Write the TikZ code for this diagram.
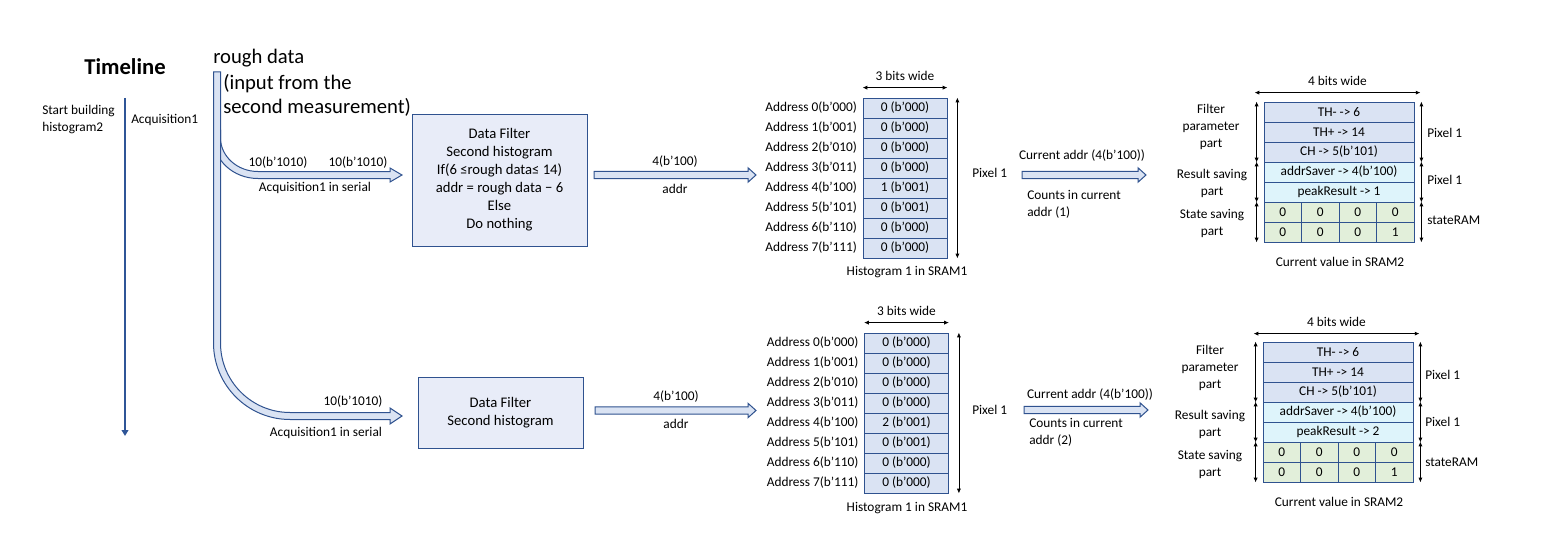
\documentclass[tikz,border=0pt]{standalone}
\usepackage{fontspec}
\setmainfont{Carlito}
\usepackage{tikz}
\usetikzlibrary{arrows.meta}
\usetikzlibrary{calc}
\usetikzlibrary{positioning}

\definecolor{outblue}{RGB}{47,82,143}
\definecolor{lineblue}{RGB}{47,85,151}
\definecolor{arrowfill}{RGB}{218,227,243}
\definecolor{filterfill}{RGB}{232,236,248}
\definecolor{cellblue}{RGB}{218,227,243}
\definecolor{cellcyan}{RGB}{222,244,251}
\definecolor{cellgreen}{RGB}{226,239,218}

\tikzset{
  lbl/.style={font=\fontsize{10}{12.75}\selectfont, inner sep=0pt, align=center},
  filterbox/.style={draw=outblue, fill=filterfill, line width=0.75pt, align=center,
    font=\fontsize{11}{13.5}\selectfont, inner sep=0pt},
  histcell/.style={draw=outblue, fill=cellblue, line width=0.6pt, minimum width=63pt,
    minimum height=15pt, inner sep=0pt, font=\fontsize{10}{12}\selectfont},
  sramcell/.style={draw=outblue, line width=0.6pt, minimum width=112.5pt,
    minimum height=15pt, inner sep=0pt, font=\fontsize{10}{12}\selectfont},
  statecell/.style={draw=outblue, fill=cellgreen, line width=0.6pt, minimum width=28.125pt,
    minimum height=15pt, inner sep=0pt, font=\fontsize{10}{12}\selectfont},
  dim/.style={{Latex[length=3.5pt,width=3pt]}-{Latex[length=3.5pt,width=3pt]}, line width=0.5pt},
  hollow/.style={draw=outblue, fill=arrowfill, line width=0.75pt, line join=miter},
}

% block arrow from one coordinate to another (horizontal)
\newcommand{\blockarrow}[2]{%
  \draw[hollow] let \p1=(#1), \p2=(#2) in
    (\x1,\y1+2.7pt) -- (\x2-6pt,\y1+2.7pt) -- (\x2-6pt,\y1+5.4pt) -- (\x2,\y1)
    -- (\x2-6pt,\y1-5.4pt) -- (\x2-6pt,\y1-2.7pt) -- (\x1,\y1-2.7pt) -- cycle;}

\begin{document}
\begin{tikzpicture}[x=0.75pt,y=-0.75pt]
\useasboundingbox (0,0) rectangle (1560,560);

% timeline
\node[font=\fontsize{17}{20}\selectfont\bfseries, inner sep=0pt] (tltitle) at (125,67) {Timeline};
\coordinate (tltop) at (125,98);
\coordinate (tlbot) at (125,436);
\draw[lineblue, line width=1.5pt, -{Triangle[length=4.5pt,width=5pt]}] (tltop) -- (tlbot);
\node[lbl, anchor=west, align=left] (startlbl) at (42,119.5) {Start building\\histogram2};
\node[lbl, anchor=west] (acqlbl) at (131,120) {Acquisition1};

% rough data input
\node[font=\fontsize{15.5}{18}\selectfont, inner sep=0pt, anchor=west] (rough) at (213,58) {rough data};
\node[font=\fontsize{15.5}{18}\selectfont, inner sep=0pt, anchor=west, align=left] (roughsub) at (223,95)
  {(input from the\\second measurement)};

% upper branch (behind the bar)
\draw[hollow] (213.5,130) -- (213.5,138) .. controls (213.5,160) and (233,178.5) .. (258,178.5)
  -- (390,178.5) -- (390,182) -- (402,175) -- (390,168) -- (390,171.5) -- (258,171.5)
  .. controls (237,171.5) and (220.5,156) .. (220.5,138) -- (220.5,130) -- cycle;
% main bar and lower branch
\draw[hollow] (213.5,72) -- (213.5,343) .. controls (213.5,385.2) and (247.8,419.5) .. (290,419.5)
  -- (390,419.5) -- (390,424) -- (402,416) -- (390,408) -- (390,412.5) -- (290,412.5)
  .. controls (251.6,412.5) and (220.5,381.4) .. (220.5,343) -- (220.5,72) -- cycle;

\node[lbl] (inA1) at (278,163) {10(b’1010)};
\node[lbl] (inA2) at (358,163) {10(b’1010)};
\node[lbl] (serA) at (315,188) {Acquisition1 in serial};
\node[lbl] (inB) at (353,402) {10(b’1010)};
\node[lbl] (serB) at (326,433) {Acquisition1 in serial};

% data filters
\node[filterbox, minimum width=131.25pt, minimum height=99pt] (filterA) at (499.5,180)
  {Data Filter\\Second histogram\\If(6 ≤rough data≤ 14)\\addr = rough data − 6\\Else\\Do nothing};
\node[filterbox, minimum width=123.75pt, minimum height=53.25pt] (filterB) at (500.5,412.5)
  {Data Filter\\Second histogram};

% addr arrows
\coordinate (adrA1) at (594,175);
\coordinate (adrA2) at (756,175);
\blockarrow{adrA1}{adrA2}
\node[lbl] (adrAtop) at (675,162) {4(b’100)};
\node[lbl] (adrAbot) at (675,189) {addr};
\coordinate (adrB1) at (595,410.5);
\coordinate (adrB2) at (756,410.5);
\blockarrow{adrB1}{adrB2}
\node[lbl] (adrBtop) at (676,397) {4(b’100)};
\node[lbl] (adrBbot) at (676,424) {addr};

% histograms in SRAM1
\foreach \i/\adr/\va/\vb in {0/000/0 (b’000)/0 (b’000), 1/001/0 (b’000)/0 (b’000),
    2/010/0 (b’000)/0 (b’000), 3/011/0 (b’000)/0 (b’000), 4/100/1 (b’001)/2 (b’001),
    5/101/0 (b’001)/0 (b’001), 6/110/0 (b’000)/0 (b’000), 7/111/0 (b’000)/0 (b’000)} {
  \node[histcell] (hA\i) at (905,108+20*\i) {\va};
  \node[lbl, anchor=east] (adrlA\i) at ([xshift=-4pt]hA\i.west) {Address \i(b’\adr)};
  \node[histcell] (hB\i) at (906.5,343+20*\i) {\vb};
  \node[lbl, anchor=east] (adrlB\i) at ([xshift=-4pt]hB\i.west) {Address \i(b’\adr)};
}
\draw[dim] ([yshift=7.5pt]hA0.north west) -- ([yshift=7.5pt]hA0.north east)
  node[lbl, midway, above=5pt] (bitsA) {3 bits wide};
\draw[dim] ([xshift=7.5pt]hA0.north east) -- ([xshift=7.5pt]hA7.south east);
\node[lbl, anchor=west] (pixA) at (972,173) {Pixel 1};
\node[lbl] (sramA) at (907,272) {Histogram 1 in SRAM1};
\draw[dim] ([yshift=7.5pt]hB0.north west) -- ([yshift=7.5pt]hB0.north east)
  node[lbl, midway, above=5pt] (bitsB) {3 bits wide};
\draw[dim] ([xshift=7.5pt]hB0.north east) -- ([xshift=7.5pt]hB7.south east);
\node[lbl, anchor=west] (pixB) at (972,410) {Pixel 1};
\node[lbl] (sramB) at (907,508) {Histogram 1 in SRAM1};

% current addr arrows
\coordinate (curA1) at (1022,175);
\coordinate (curA2) at (1146,175);
\blockarrow{curA1}{curA2}
\node[lbl] (curAtop) at (1082,156) {Current addr (4(b’100))};
\node[lbl, anchor=west, align=left] (cntA) at (1027,204) {Counts in current\\addr (1)};
\coordinate (curB1) at (1024,410);
\coordinate (curB2) at (1148,410);
\blockarrow{curB1}{curB2}
\node[lbl] (curBtop) at (1090,395) {Current addr (4(b’100))};
\node[lbl, anchor=west, align=left] (cntB) at (1029,432.5) {Counts in current\\addr (2)};

% SRAM2 contents
\foreach \r/\ta/\tb/\fc in {0/TH- -> 6/TH- -> 6/cellblue, 1/TH+ -> 14/TH+ -> 14/cellblue,
    2/CH -> 5(b’101)/CH -> 5(b’101)/cellblue,
    3/addrSaver -> 4(b’100)/addrSaver -> 4(b’100)/cellcyan,
    4/peakResult -> 1/peakResult -> 2/cellcyan} {
  \node[sramcell, fill=\fc] (sA\r) at (1339,112+20*\r) {\ta};
  \node[sramcell, fill=\fc] (sB\r) at (1338,352+20*\r) {\tb};
}
\foreach \c in {0,...,3} {
  \node[statecell] (stA5\c) at (1282.75+37.5*\c,212) {0};
  \node[statecell] (stA6\c) at (1282.75+37.5*\c,232) {\ifnum\c=3 1\else 0\fi};
  \node[statecell] (stB5\c) at (1281.75+37.5*\c,452) {0};
  \node[statecell] (stB6\c) at (1281.75+37.5*\c,472) {\ifnum\c=3 1\else 0\fi};
}
% upper SRAM2 dimensions
\draw[dim] ([shift={(-6.75pt,6.75pt)}]sA0.north west) -- ([shift={(4.5pt,6.75pt)}]sA0.north east)
  node[lbl, midway, above=5pt] (bits4A) {4 bits wide};
\draw[dim] ([xshift=-5.25pt]sA0.north west) -- ([xshift=-5.25pt]sA2.south west);
\draw[dim] ([xshift=-5.25pt]sA3.north west) -- ([xshift=-5.25pt]sA4.south west);
\draw[dim] ([xshift=-5.25pt]stA50.north west) -- ([xshift=-5.25pt]stA60.south west);
\draw[dim] ([xshift=5.25pt]sA0.north east) -- ([xshift=5.25pt]sA2.south east);
\draw[dim] ([xshift=5.25pt]sA3.north east) -- ([xshift=5.25pt]sA4.south east);
\draw[dim] ([xshift=5.25pt]stA53.north east) -- ([xshift=5.25pt]stA63.south east);
\node[lbl] (filtA) at (1211,127) {Filter\\parameter\\part};
\node[lbl] (resA) at (1212,183.5) {Result saving\\part};
\node[lbl] (staA) at (1212,223.5) {State saving\\part};
\node[lbl, anchor=west] (pxA1) at (1427,133) {Pixel 1};
\node[lbl, anchor=west] (pxA2) at (1427,180) {Pixel 1};
\node[lbl, anchor=west] (ramA) at (1427,220) {stateRAM};
\node[lbl] (valA) at (1340,262) {Current value in SRAM2};
% lower SRAM2 dimensions
\draw[dim] ([shift={(-6.75pt,6pt)}]sB0.north west) -- ([shift={(4.5pt,6pt)}]sB0.north east)
  node[lbl, midway, above=5pt] (bits4B) {4 bits wide};
\draw[dim] ([xshift=-5.25pt]sB0.north west) -- ([xshift=-5.25pt]sB2.south west);
\draw[dim] ([xshift=-5.25pt]sB3.north west) -- ([xshift=-5.25pt]sB4.south west);
\draw[dim] ([xshift=-5.25pt]stB50.north west) -- ([xshift=-5.25pt]stB60.south west);
\draw[dim] ([xshift=5.25pt]sB0.north east) -- ([xshift=5.25pt]sB2.south east);
\draw[dim] ([xshift=5.25pt]sB3.north east) -- ([xshift=5.25pt]sB4.south east);
\draw[dim] ([xshift=5.25pt]stB53.north east) -- ([xshift=5.25pt]stB63.south east);
\node[lbl] (filtB) at (1210,368) {Filter\\parameter\\part};
\node[lbl] (resB) at (1210,424.5) {Result saving\\part};
\node[lbl] (staB) at (1210,464.5) {State saving\\part};
\node[lbl, anchor=west] (pxB1) at (1425,375) {Pixel 1};
\node[lbl, anchor=west] (pxB2) at (1425,422) {Pixel 1};
\node[lbl, anchor=west] (ramB) at (1425,462) {stateRAM};
\node[lbl] (valB) at (1339,502) {Current value in SRAM2};
\end{tikzpicture}
\end{document}
